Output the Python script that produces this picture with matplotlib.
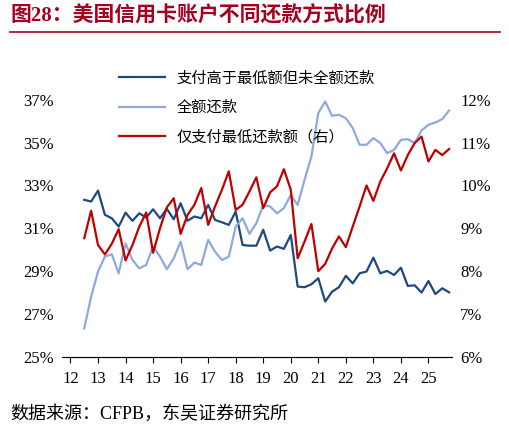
import matplotlib.pyplot as plt
import numpy as np

plt.rcParams['font.family'] = ['Liberation Serif', 'Noto Sans CJK SC']

quarters = np.arange(54) * 0.25 + 2012.5
above_min = [32.33, 32.25, 32.76, 31.63, 31.47, 31.08, 31.73, 31.35, 31.70, 31.50, 31.89, 31.47, 31.91, 31.42,
             32.17, 31.35, 31.55, 31.47, 32.09, 31.39, 31.28, 31.16, 31.78, 30.22, 30.19, 30.19, 30.93, 29.96,
             30.15, 30.04, 30.69, 28.28, 28.25, 28.39, 28.67, 27.58, 28.04, 28.25, 28.78, 28.43, 28.90, 28.98,
             29.63, 28.90, 29.01, 28.82, 29.16, 28.31, 28.34, 28.00, 28.54, 27.93, 28.20, 28.01]
full_pay = [26.33, 27.81, 28.98, 29.68, 29.79, 28.90, 30.30, 29.52, 29.13, 29.29, 30.15, 29.68, 29.09, 29.60,
            30.38, 29.09, 29.40, 29.29, 30.46, 29.91, 29.52, 29.68, 31.08, 31.47, 30.74, 31.24, 32.09, 32.02,
            31.70, 31.94, 32.56, 32.09, 33.26, 34.35, 36.38, 36.92, 36.25, 36.30, 36.14, 35.68, 34.90, 34.90,
            35.21, 34.98, 34.51, 34.66, 35.13, 35.16, 34.98, 35.57, 35.83, 35.94, 36.10, 36.50]
min_only = [8.77, 9.41, 8.61, 8.39, 8.64, 8.98, 8.25, 8.61, 9.04, 9.37, 8.43, 9.00, 9.49, 9.70, 8.87, 9.31,
            9.55, 9.94, 9.08, 9.51, 9.90, 10.33, 9.43, 9.55, 9.86, 10.19, 9.47, 9.84, 9.98, 10.38, 9.90, 8.30,
            8.69, 9.10, 8.00, 8.17, 8.53, 8.81, 8.56, 9.04, 9.51, 10.00, 9.64, 10.09, 10.40, 10.75, 10.35, 10.71,
            10.99, 11.14, 10.56, 10.83, 10.71, 10.85]
years = list(range(2012, 2026))

fig = plt.figure(figsize=(5.1, 4.32), dpi=100)
ax = fig.add_axes([0.122, 0.174, 0.764, 0.595])
ax2 = ax.twinx()

l1, = ax.plot(quarters, above_min, color='#1f497d', lw=1.6, label='支付高于最低额但未全额还款')
l2, = ax.plot(quarters, full_pay, color='#8eaadb', lw=1.6, label='全额还款')
l3, = ax2.plot(quarters, min_only, color='#c00000', lw=1.6, label='仅支付最低还款额（右）')

ax.set_xlim(2011.7, 2025.85)
ax.set_ylim(25, 37)
ax.set_yticks(range(25, 38, 2))
ax.set_yticklabels([f'{v}%' for v in range(25, 38, 2)])
ax2.set_ylim(6, 12)
ax2.set_yticks(range(6, 13))
ax2.set_yticklabels([f'{v}%' for v in range(6, 13)])
ax.set_xticks(years)
ax.set_xticklabels([str(y % 100) for y in years])

for a in (ax, ax2):
    for s in ('top', 'left', 'right'):
        a.spines[s].set_visible(False)
    a.tick_params(labelsize=12, length=0, pad=6)
ax.tick_params(axis='x', length=4, direction='out')
ax.spines['bottom'].set_color('#888888')

leg = ax.legend(handles=[l1, l2, l3], loc='upper left', bbox_to_anchor=(0.11, 1.17), frameon=False,
                prop={'family': ['Noto Sans CJK SC'], 'size': 11}, handlelength=3, labelspacing=0.8)

fig.text(0.02, 0.95, '图28：美国信用卡账户不同还款方式比例', color='#a50021', fontsize=15,
         fontweight='bold', family=['Liberation Serif', 'Noto Sans CJK SC'])
fig.add_artist(plt.Line2D([0.02, 0.98], [0.925, 0.925], color='#a50021', lw=1.2))
fig.text(0.02, 0.03, '数据来源：CFPB，东吴证券研究所', fontsize=13,
         family=['Liberation Serif', 'Noto Sans CJK SC'])

fig.savefig('out.png', dpi=100)
